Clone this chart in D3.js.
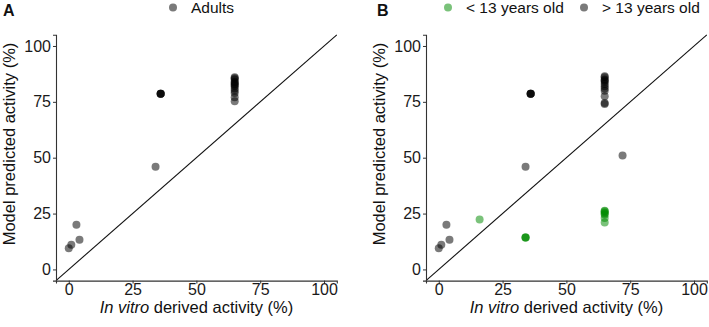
<!DOCTYPE html>
<html>
<head>
<meta charset="utf-8">
<script src="https://cdn.jsdelivr.net/npm/d3@7"></script>
<style>
  body { margin: 0; background: #fff; }
  text { font-family: "Liberation Sans", Arial, sans-serif; }
</style>
</head>
<body>
<svg id="chart" width="709" height="327"></svg>
<script>
// adults (shared by both panels)
const adultX = [0, 1, 3, 4.2, 34, 36, 36, 36, 36,
  65, 65, 65, 65, 65, 65, 65, 65, 65, 65, 65, 65, 65];
const adultYA = [9.5, 11, 20, 13.3, 46, 78.6, 78.6, 78.6, 78.6,
  86, 85.5, 85, 84, 83.5, 83, 82.5, 82, 81, 80, 79, 77, 75.3];

// panel B
const olderX = [0, 1, 3, 4.2, 34, 36, 36, 36, 36,
  65, 65, 65, 65, 65, 65, 65, 65, 65, 65, 65, 65, 72];
const olderY = [9.5, 11, 20, 13.3, 46, 78.6, 78.6, 78.6, 78.6,
  86.5, 86, 85, 84.5, 84, 83, 82, 81, 80, 77.5, 74.5, 74, 51];
const youngX = [16, 34, 34, 34, 65, 65, 65, 65, 65, 65, 65];
const youngY = [22.3, 14.3, 14.3, 14.3, 26.3, 26, 25.5, 25, 24.5, 23, 21];

const tickVals = [0, 25, 50, 75, 100];
const xTitle = ["In vitro", " derived activity (%)"];
const yTitle = "Model predicted activity (%)";

const gray = "#000000";
const green = "#008b00";
const ptAlpha = 0.52;

const svg = d3.select("#chart");

function drawPanel(opts) {
  const x = d3.scaleLinear().domain([-5, 105]).range([opts.left, opts.left + 280.8]);
  const y = d3.scaleLinear().domain([-5, 105]).range([280.6, 34.8]);
  const g = svg.append("g");

  // identity line
  g.append("line")
    .attr("x1", x(-5)).attr("y1", y(-5))
    .attr("x2", x(105)).attr("y2", y(105))
    .attr("stroke", "#111")
    .attr("stroke-width", 1.1);

  opts.series.forEach(s => {
    g.append("g").selectAll("circle")
      .data(s.xs.map((v, i) => [v, s.ys[i]]))
      .join("circle")
      .attr("cx", d => x(d[0]))
      .attr("cy", d => y(d[1]))
      .attr("r", 4)
      .attr("fill", s.color)
      .attr("fill-opacity", ptAlpha);
  });

  const xAxis = g.append("g")
    .attr("transform", `translate(0,${y(-5)})`)
    .call(d3.axisBottom(x).tickValues(tickVals).tickSize(3).tickPadding(1));
  const yAxis = g.append("g")
    .attr("transform", `translate(${x(-5)},0)`)
    .call(d3.axisLeft(y).tickValues(tickVals).tickSize(3).tickPadding(2));

  [xAxis, yAxis].forEach(a => {
    a.select(".domain").attr("stroke", "#333").attr("stroke-width", 1.1);
    a.selectAll(".tick line").attr("stroke", "#333");
    a.selectAll(".tick text")
      .attr("fill", "#1a1a1a")
      .style("font-size", "16px")
      .style("font-family", "'Liberation Sans', Arial, sans-serif");
  });
  xAxis.selectAll(".tick text").attr("dy", "0.68em");

  // axis titles
  const xt = g.append("text")
    .attr("x", (x(-5) + x(105)) / 2)
    .attr("y", 313)
    .attr("text-anchor", "middle")
    .attr("fill", "#111")
    .style("font-size", "16.5px");
  xt.append("tspan").attr("font-style", "italic").text(xTitle[0]);
  xt.append("tspan").text(xTitle[1]);

  g.append("text")
    .attr("transform", `translate(${opts.left - 41},144) rotate(-90)`)
    .attr("text-anchor", "middle")
    .attr("fill", "#111")
    .style("font-size", "16.5px")
    .text(yTitle);

  // panel letter
  g.append("text")
    .attr("x", opts.letterX)
    .attr("y", 16)
    .attr("font-weight", "bold")
    .attr("fill", "#111")
    .style("font-size", "16px")
    .text(opts.letter);

  // legend
  opts.legend.forEach(l => {
    g.append("circle")
      .attr("cx", l.x).attr("cy", 7.5).attr("r", 4)
      .attr("fill", l.color).attr("fill-opacity", ptAlpha);
    g.append("text")
      .attr("x", l.x + 18).attr("y", 13)
      .attr("fill", "#111")
      .style("font-size", "15.5px")
      .text(l.label);
  });
}

drawPanel({
  left: 56, letter: "A", letterX: 3,
  series: [{ xs: adultX, ys: adultYA, color: gray }],
  legend: [{ x: 173, color: gray, label: "Adults" }]
});

drawPanel({
  left: 426, letter: "B", letterX: 377,
  series: [
    { xs: olderX, ys: olderY, color: gray },
    { xs: youngX, ys: youngY, color: green }
  ],
  legend: [
    { x: 448, color: green, label: "< 13 years old" },
    { x: 584, color: gray, label: "> 13 years old" }
  ]
});
</script>
</body>
</html>
